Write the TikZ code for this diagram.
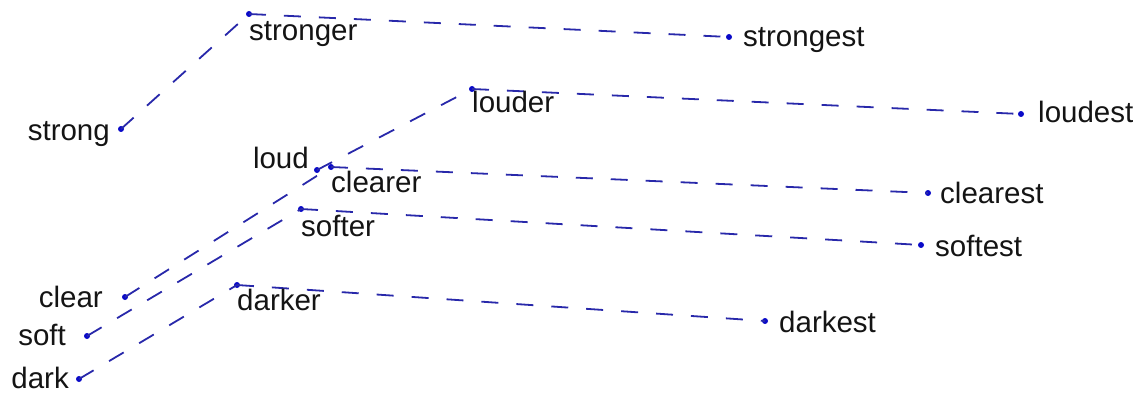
\documentclass[tikz,border=0pt]{standalone}
\usepackage{fontspec}
\setmainfont{Liberation Sans}
\definecolor{linec}{RGB}{40,40,170}
\definecolor{dotc}{RGB}{10,10,200}
\begin{document}
\begin{tikzpicture}[x=1pt,y=-1pt,
  pt/.style={circle,fill=dotc,inner sep=0pt,minimum size=6pt},
  word/.style={font=\fontsize{29.5}{32}\selectfont,inner sep=0pt,text=black!92},
  lw/.style={word,anchor=base west},
  le/.style={word,anchor=base east},
  conn/.style={draw=linec,line width=1.8pt,dash pattern=on 17pt off 18pt}]
\useasboundingbox (0,0) rectangle (1137,393);
% points
\node[pt] (strong) at (121,129) {};
\node[pt] (stronger) at (249,14) {};
\node[pt] (strongest) at (729,37) {};
\node[pt] (louder) at (472,89) {};
\node[pt] (loudest) at (1021,114) {};
\node[pt] (loud) at (317,170) {};
\node[pt] (clearer) at (331,167) {};
\node[pt] (clearest) at (928,193) {};
\node[pt] (softer) at (301,209) {};
\node[pt] (softest) at (921,245) {};
\node[pt] (clear) at (125,297) {};
\node[pt] (soft) at (87,336) {};
\node[pt] (dark) at (79,379) {};
\node[pt] (darker) at (237,285) {};
\node[pt] (darkest) at (765,321) {};
% connectors
\draw[conn] (strong.center) -- (stronger.center);
\draw[conn] (stronger.center) -- (strongest.center);
\draw[conn] (loud.center) -- (louder.center);
\draw[conn] (louder.center) -- (loudest.center);
\draw[conn] (clear.center) -- (clearer.center);
\draw[conn] (clearer.center) -- (clearest.center);
\draw[conn] (soft.center) -- (softer.center);
\draw[conn] (softer.center) -- (softest.center);
\draw[conn] (dark.center) -- (darker.center);
\draw[conn] (darker.center) -- (darkest.center);
% labels
\node[le] (t-strong) at (110,140) {strong};
\node[lw] (t-stronger) at (249,41) {stronger};
\node[lw] (t-strongest) at (743,47) {strongest};
\node[lw] (t-louder) at (472,113) {louder};
\node[lw] (t-loudest) at (1038,123) {loudest};
\node[le] (t-loud) at (309,168) {loud};
\node[lw] (t-clearer) at (331,192) {clearer};
\node[lw] (t-clearest) at (940,203) {clearest};
\node[lw] (t-softer) at (301,236) {softer};
\node[lw] (t-softest) at (935,256) {softest};
\node[le] (t-clear) at (103,307) {clear};
\node[le] (t-soft) at (66,345) {soft};
\node[le] (t-dark) at (69,388) {dark};
\node[lw] (t-darker) at (237,310) {darker};
\node[lw] (t-darkest) at (779,332) {darkest};
\end{tikzpicture}
\end{document}
